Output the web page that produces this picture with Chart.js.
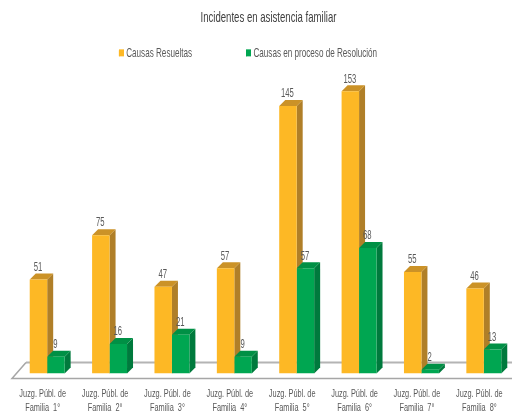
<!DOCTYPE html>
<html>
<head>
<meta charset="utf-8">
<style>
html, body { margin: 0; padding: 0; background: #fff; overflow: hidden; }
#wrap { width: 512px; height: 411px; overflow: hidden; }
</style>
<script src="https://cdn.jsdelivr.net/npm/chart.js@4/dist/chart.umd.min.js"></script>
</head>
<body>
<div id="wrap"><canvas id="graphic" width="538" height="421"></canvas></div>
<script>
const categories = [
    ['Juzg. Públ. de', 'Familia  1°'],
    ['Juzg. Públ. de', 'Familia  2°'],
    ['Juzg. Públ. de', 'Familia  3°'],
    ['Juzg. Públ. de', 'Familia  4°'],
    ['Juzg. Públ. de', 'Familia  5°'],
    ['Juzg. Públ. de', 'Familia  6°'],
    ['Juzg. Públ. de', 'Familia  7°'],
    ['Juzg. Públ. de', 'Familia  8°']
];
const resueltas = [51, 75, 47, 57, 145, 153, 55, 46];
const enProceso = [9, 16, 21, 9, 57, 68, 2, 13];

const fontName = '"Liberation Sans", sans-serif';
const textSquash = 0.64;
const depth = 6;
const frontColors = ['#FDB825', '#00A651'];
const sideColors = ['#B07F28', '#007A3D'];
const topColors = ['#CB9227', '#009045'];

const canvas = document.getElementById('graphic');
const context = canvas.getContext('2d');

//No narrow font installed, so squash all text sideways
const realFillText = context.fillText.bind(context);
const realMeasure = context.measureText.bind(context);
context.fillText = (text, x, y) => realFillText(text, x, y, realMeasure(text).width * textSquash);
context.measureText = text => ({ width: realMeasure(text).width * textSquash });

function face(ctx, color, points) {
    ctx.fillStyle = color;
    ctx.beginPath();
    points.forEach((p, i) => i ? ctx.lineTo(p[0], p[1]) : ctx.moveTo(p[0], p[1]));
    ctx.closePath();
    ctx.fill();
}

//Floor under the bars and the side and top of every bar
const bars3d = {
    id: 'bars3d',
    afterLayout(chart) {
        const legend = chart.legend;
        legend.left -= 17.5;
        legend.right -= 17.5;
        legend.top -= 34;
        legend.adjustHitBoxes();
        chart.titleBlock.left += 3;
        chart.titleBlock.right += 3;
    },
    beforeDatasetsDraw(chart) {
        const ctx = chart.ctx;
        const base = chart.scales.y.getPixelForValue(0);
        ctx.save();
        ctx.strokeStyle = '#B4B4B4';
        ctx.lineWidth = 2;
        ctx.beginPath();
        ctx.moveTo(26, base - 11);
        ctx.lineTo(chart.width, base - 11);
        ctx.stroke();
        ctx.lineWidth = 1.5;
        ctx.strokeStyle = '#A6A6A6';
        ctx.beginPath();
        ctx.moveTo(26, base - 11);
        ctx.lineTo(12, base + 5);
        ctx.lineTo(chart.width, base + 5);
        ctx.stroke();
        chart.data.datasets.forEach((ds, d) => {
            chart.getDatasetMeta(d).data.forEach(bar => {
                const l = bar.x - bar.width / 2;
                const r = bar.x + bar.width / 2;
                face(ctx, sideColors[d], [[r, bar.y], [r + depth, bar.y - depth], [r + depth, bar.base - depth], [r, bar.base]]);
                face(ctx, topColors[d], [[l, bar.y], [l + depth, bar.y - depth], [r + depth, bar.y - depth], [r, bar.y]]);
            });
        });
        ctx.restore();
    },
    afterDatasetsDraw(chart) {
        const ctx = chart.ctx;
        ctx.save();
        ctx.font = '12px ' + fontName;
        ctx.fillStyle = '#595959';
        ctx.textAlign = 'center';
        ctx.textBaseline = 'middle';
        chart.data.datasets.forEach((ds, d) => {
            chart.getDatasetMeta(d).data.forEach((bar, i) => {
                ctx.fillText(String(ds.data[i]), bar.x - 0.5, bar.y - 12);
            });
        });
        ctx.restore();
    },
    afterDraw(chart) {
        //legend swatches: the built in box leaves too wide a gap before the text
        const ctx = chart.ctx;
        const legend = chart.legend;
        const midY = legend.top + legend.options.labels.padding + legend.options.labels.font.size / 2;
        legend.legendHitBoxes.forEach((box, i) => {
            ctx.fillStyle = frontColors[i];
            ctx.fillRect(Math.round(box.left), midY - 4, 5, 7);
        });
    }
};

new Chart(canvas, {
    type: 'bar',
    data: {
        labels: categories,
        datasets: [
            { label: 'Causas Resueltas', data: resueltas, backgroundColor: frontColors[0] },
            { label: 'Causas en proceso de Resolución', data: enProceso, backgroundColor: frontColors[1] }
        ]
    },
    options: {
        responsive: false,
        animation: false,
        layout: { padding: { left: 16, right: 23, top: 0, bottom: 0 } },
        categoryPercentage: 0.56,
        barPercentage: 1,
        plugins: {
            title: {
                display: true,
                text: 'Incidentes en asistencia familiar',
                color: '#404040',
                font: { family: fontName, size: 15, weight: 'normal' },
                padding: { top: 9, bottom: 0 }
            },
            legend: {
                position: 'top',
                maxHeight: 57,
                labels: {
                    boxWidth: 1,
                    boxHeight: 6,
                    padding: 54,
                    color: '#595959',
                    font: { family: fontName, size: 12.7 }
                }
            },
            tooltip: { enabled: false }
        },
        scales: {
            x: {
                grid: { display: false },
                border: { display: false },
                ticks: {
                    maxRotation: 0,
                    autoSkip: false,
                    padding: 6,
                    labelOffset: -4.5,
                    color: '#595959',
                    font: { family: fontName, size: 11.5 }
                }
            },
            y: {
                display: false,
                min: 0,
                max: 157
            }
        }
    },
    plugins: [bars3d]
});
</script>
</body>
</html>
